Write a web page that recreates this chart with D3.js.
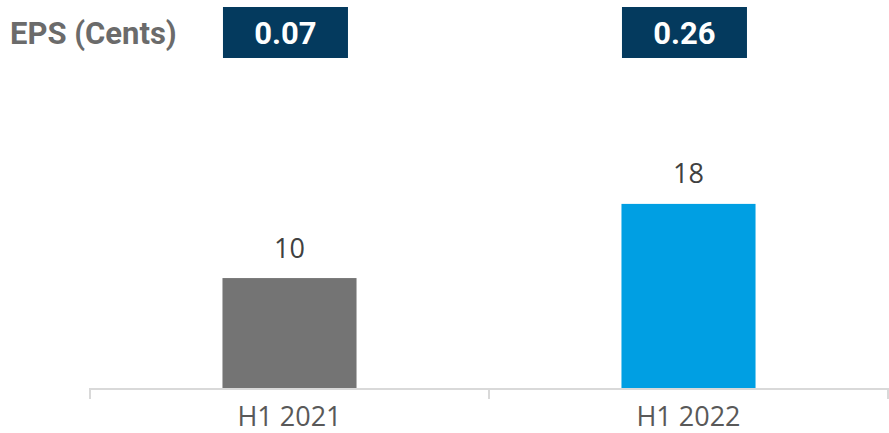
<!DOCTYPE html>
<html>
<head>
<meta charset="utf-8">
<script src="https://cdn.jsdelivr.net/npm/d3@7"></script>
<style>
  body { margin: 0; background: #fff; }
  svg { display: block; }
</style>
</head>
<body>
<svg width="889" height="433"></svg>
<script>
// data ======================================================
var categories = ["H1 2021", "H1 2022"];
var values = [10.45, 17.5];        // bar heights (labels shown rounded)
var epsValues = ["0.07", "0.26"];  // EPS (cents) boxes
var barColors = ["#747474", "#009fe3"];

// setup =====================================================
var svg = d3.select("svg"),
    width = +svg.attr("width"),
    height = +svg.attr("height");

var x = d3.scaleBand()
    .domain(categories)
    .range([90, 888])
    .paddingInner(0.664)
    .paddingOuter(0.332);

var y = d3.scaleLinear()
    .domain([0, 20])
    .range([388, 177.6]);

// title + eps boxes
svg.append("text")
    .attr("x", 10).attr("y", 44)
    .style("font-family", "Roboto")
    .style("font-weight", "bold")
    .style("font-size", "31px")
    .style("fill", "#6b6b6b")
    .text("EPS (Cents)");

var eps = svg.append("g").attr("class", "eps")
  .selectAll("g")
  .data(categories)
  .enter().append("g");

eps.append("rect")
    .attr("x", function(d) { return x(d) + 0.5; })
    .attr("y", 7)
    .attr("width", 125)
    .attr("height", 51)
    .attr("fill", "#043a5e");

eps.append("text")
    .attr("x", function(d) { return x(d) + 63; })
    .attr("y", 44)
    .attr("text-anchor", "middle")
    .style("font-family", "Roboto")
    .style("font-weight", "bold")
    .style("font-size", "31px")
    .style("fill", "#fff")
    .text(function(d, i) { return epsValues[i]; });

// bars
svg.append("g").attr("class", "bars")
  .selectAll("rect")
  .data(categories)
  .enter().append("rect")
    .attr("x", function(d) { return x(d); })
    .attr("y", function(d, i) { return y(values[i]); })
    .attr("width", x.bandwidth())
    .attr("height", function(d, i) { return y(0) - y(values[i]); })
    .attr("fill", function(d, i) { return barColors[i]; });

// value labels
svg.append("g").attr("class", "labels")
  .selectAll("text")
  .data(categories)
  .enter().append("text")
    .attr("x", function(d) { return x(d) + x.bandwidth() / 2; })
    .attr("y", function(d, i) { return y(values[i]) - 20.5; })
    .attr("text-anchor", "middle")
    .style("font-family", "Open Sans")
    .style("font-size", "27px")
    .style("fill", "#404040")
    .text(function(d, i) { return d3.format(".0f")(values[i]); });

// x axis
var axis = svg.append("g").attr("class", "x-axis");
axis.append("line")
    .attr("x1", 90).attr("x2", 889)
    .attr("y1", 389).attr("y2", 389)
    .attr("stroke", "#d9d9d9").attr("stroke-width", 2);

var edges = [90, x(categories[1]) - x.step() * x.paddingInner() / 2, 888];
axis.selectAll("line.tick")
  .data(edges)
  .enter().append("line")
    .attr("class", "tick")
    .attr("x1", function(d) { return d; })
    .attr("x2", function(d) { return d; })
    .attr("y1", 388).attr("y2", 399)
    .attr("stroke", "#d9d9d9").attr("stroke-width", 2);

axis.selectAll("text")
  .data(categories)
  .enter().append("text")
    .attr("x", function(d) { return x(d) + x.bandwidth() / 2; })
    .attr("y", 426)
    .attr("text-anchor", "middle")
    .style("font-family", "Open Sans")
    .style("font-size", "27px")
    .style("fill", "#595959")
    .text(function(d) { return d; });
</script>
</body>
</html>
